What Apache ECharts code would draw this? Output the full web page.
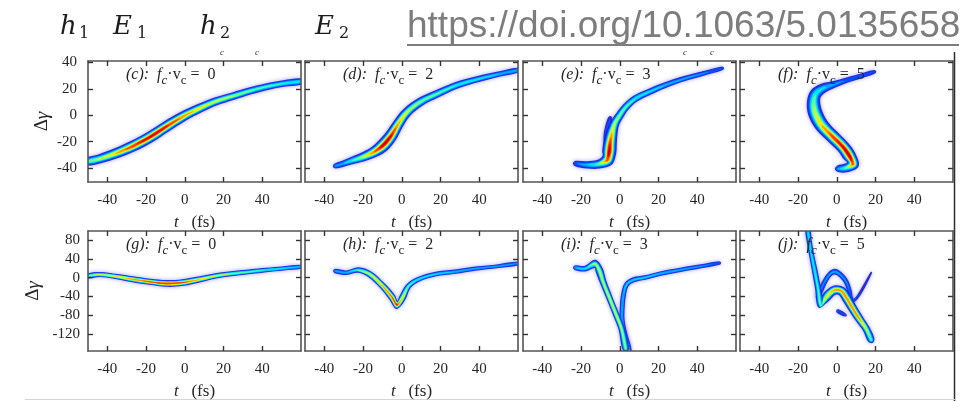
<!DOCTYPE html>
<html>
<head>
<meta charset="utf-8">
<script src="https://cdn.jsdelivr.net/npm/echarts@6/dist/echarts.min.js"></script>
<style>
  html, body { margin: 0; padding: 0; background: #ffffff; }
  #chart { width: 966px; height: 401px; }
</style>
</head>
<body>
<div id="chart"></div>
<script>
// ---- tick labels ----
const tTicks = [-40, -20, 0, 20, 40];
const gammaTicksTop = [-40, -20, 0, 20, 40];
const gammaTicksBottom = [-120, -80, -40, 0, 40, 80];

// ---- panel captions ----
const panelTags = ['c', 'd', 'e', 'f', 'g', 'h', 'i', 'j'];
const fcvcValues = [0, 2, 3, 5, 0, 2, 3, 5];
const headerSymbols = [['h', '1'], ['E', '1'], ['h', '2'], ['E', '2']];
const doiText = 'https://doi.org/10.1063/5.0135658';

// ---- ridge samples: [t (fs), Δγ, relative density, relative spread] ----
const ridgeC = [
  [-50, -35, 0.45, 0.85], [-44, -33, 0.55, 0.9], [-35, -28.5, 0.72, 0.95],
  [-27, -23.5, 0.88, 1.0], [-18, -16.5, 0.97, 1.0], [-10, -9, 0.93, 0.98],
  [-1, -1, 0.78, 0.92], [8, 5.5, 0.65, 0.85], [16, 10.5, 0.57, 0.8],
  [25, 14.5, 0.52, 0.75], [34, 18.5, 0.47, 0.72], [42, 21.5, 0.43, 0.7],
  [51, 24, 0.4, 0.68], [60, 25.5, 0.38, 0.66]
];
const ridgeD = [
  [-34.5, -38.5, 0.22, 0.6], [-30, -36.5, 0.3, 0.7], [-25, -34, 0.42, 0.8],
  [-19, -31, 0.6, 0.9], [-14, -27.5, 0.82, 1.0], [-9.5, -22.5, 1.0, 1.15],
  [-5.5, -15.5, 0.95, 1.1], [-2, -7, 0.75, 1.0], [2.5, 2, 0.6, 0.9],
  [9.5, 10, 0.5, 0.85], [18, 16, 0.45, 0.78], [28, 22.5, 0.4, 0.72],
  [40, 27.5, 0.35, 0.66], [50, 31, 0.3, 0.6], [60, 34, 0.27, 0.56]
];
const ridgeE = [
  [-23, -36.5, 0.18, 0.7], [-17, -37.5, 0.3, 0.8], [-11, -37, 0.45, 0.9],
  [-6.5, -34, 0.85, 1.15], [-5.5, -28, 1.0, 1.25], [-5, -21, 0.9, 1.2],
  [-4, -13, 0.7, 1.05], [-2.5, -6, 0.55, 0.9], [0, 0, 0.5, 0.82],
  [3, 6, 0.45, 0.76], [8, 12.5, 0.4, 0.72], [15, 17.5, 0.35, 0.68],
  [23, 22.5, 0.3, 0.64], [33, 27.5, 0.26, 0.6], [43, 31.5, 0.22, 0.56],
  [53, 35.5, 0.16, 0.5]
];
const ridgeEShoulder = [
  [-5, -2, 0.1, 0.7], [-6, -9, 0.16, 0.85], [-6.8, -16, 0.16, 0.85], [-7, -23, 0.1, 0.7]
];
const ridgeF = [
  [19.5, 32.8, 0.12, 0.55], [11, 29, 0.18, 0.65], [4, 26, 0.2, 0.7],
  [-1.2, 23.4, 0.24, 0.8], [-7, 20.5, 0.32, 1.05], [-11, 16, 0.4, 1.25],
  [-12, 8.5, 0.5, 1.35], [-10.7, 0, 0.6, 1.4], [-7.2, -8.7, 0.72, 1.3],
  [-2.1, -16.2, 0.87, 1.2], [3.1, -23.8, 0.96, 1.15], [6.6, -31, 1.0, 1.15],
  [8.3, -37, 0.85, 1.1], [4.5, -40, 0.45, 0.9], [0.5, -40.5, 0.25, 0.75]
];
const ridgeG = [
  [-50, 3.5, 0.5, 0.5], [-44, 6.5, 0.55, 0.5], [-35, 2, 0.65, 0.5],
  [-27, -3.5, 0.75, 0.55], [-18, -9, 0.85, 0.55], [-9.5, -12.5, 0.9, 0.6],
  [-1, -10.5, 0.85, 0.6], [8, -3.5, 0.7, 0.55], [16, 3.5, 0.6, 0.5],
  [25, 8.5, 0.5, 0.5], [34, 12.5, 0.45, 0.48], [42, 16, 0.4, 0.46],
  [51, 19.5, 0.35, 0.45], [60, 23, 0.3, 0.45]
];
const ridgeH = [
  [-34.5, 14, 0.25, 0.5], [-28.5, 10.5, 0.3, 0.5], [-22.5, 16, 0.45, 0.55],
  [-16.5, 7, 0.6, 0.6], [-10, -17.5, 0.72, 0.6], [-5, -42, 0.82, 0.65],
  [-2.5, -58, 0.92, 0.75], [0.2, -44, 0.65, 0.65], [3.5, -18, 0.45, 0.55],
  [8.7, -3.5, 0.38, 0.5], [17, 7, 0.33, 0.5], [27.5, 12.5, 0.3, 0.48],
  [38, 19, 0.28, 0.46], [50, 24.5, 0.25, 0.45], [60, 30, 0.22, 0.45]
];
const ridgeILeft = [
  [-23, 21, 0.3, 0.55], [-18, 19, 0.35, 0.6], [-12.8, 29, 0.55, 0.8],
  [-10.8, 17.5, 0.55, 0.75], [-8.5, -10.5, 0.55, 0.65], [-5.1, -45.6, 0.6, 0.6],
  [-1.7, -80.7, 0.6, 0.6], [0.9, -108.8, 0.55, 0.6], [3, -151, 0.5, 0.65]
];
const ridgeIRight = [
  [4.5, -156, 0.35, 0.7], [2.5, -120, 0.3, 0.6], [1.2, -90, 0.3, 0.55],
  [1.3, -60, 0.3, 0.55], [2, -35, 0.3, 0.55], [3.5, -15, 0.32, 0.55],
  [7, -5, 0.32, 0.55], [13, 0, 0.32, 0.5], [21, 8.5, 0.3, 0.5],
  [32, 17, 0.27, 0.5], [42, 24, 0.23, 0.48], [51.5, 31, 0.18, 0.45]
];
const ridgeJMain = [
  [-15, 102, 0.35, 0.55], [-14.1, 74, 0.35, 0.55], [-12.9, 45.6, 0.38, 0.55],
  [-11.2, 10.5, 0.4, 0.6], [-9.8, -21, 0.42, 0.6], [-8.1, -60, 0.45, 0.65],
  [-6, -45, 0.6, 0.8], [-3, -31, 0.7, 0.85], [-0.5, -26, 0.75, 0.85],
  [2.5, -29, 0.78, 0.85], [4.8, -42, 0.8, 0.85], [8.3, -66, 0.8, 0.8],
  [11.7, -88, 0.75, 0.75], [15.2, -109, 0.6, 0.7], [17.8, -133, 0.45, 0.7]
];
const ridgeJUpper = [
  [-9.8, -42, 0.2, 0.55], [-5.5, -3.5, 0.22, 0.6], [-1.2, 12.6, 0.25, 0.65],
  [4, -3.5, 0.22, 0.6], [6.6, -28, 0.2, 0.55], [8.3, -49, 0.2, 0.55],
  [11.7, -35, 0.12, 0.45], [17.8, 10.5, 0.07, 0.4]
];
const ridgeJDash = [
  [0.5, -71, 0.16, 0.5], [4.5, -80, 0.12, 0.45]
];

const panelRidges = [
  [ridgeC], [ridgeD], [ridgeEShoulder, ridgeE], [ridgeF],
  [ridgeG], [ridgeH], [ridgeIRight, ridgeILeft], [ridgeJUpper, ridgeJDash, ridgeJMain]
];

// ---- layout & styling ----
const SERIF = '"Liberation Serif", "Times New Roman", serif';
const COL_LEFT = [88, 305, 523, 740];
const ROW_TOP = [61, 231];
const PANEL_W = 213, PANEL_H = 121;
const Y_RANGE = [[-50.5, 41], [-156, 99]];
const INK = '#262626';
const FRAME = '#555555';

// jet-like density contour levels
const LEVELS = [
  { tau: 0.04, color: '#1a1ad0' },
  { tau: 0.11, color: '#0050ff' },
  { tau: 0.2, color: '#00a6ff' },
  { tau: 0.3, color: '#00e6f4' },
  { tau: 0.4, color: '#5cff9e' },
  { tau: 0.5, color: '#b8ff46' },
  { tau: 0.6, color: '#ffe600' },
  { tau: 0.7, color: '#ff9800' },
  { tau: 0.8, color: '#ff3a00' },
  { tau: 0.9, color: '#d40000' }
];
const BAND_PX = 2.25;

function ridgeRenderer(points) {
  return function (params, api) {
    if (params.dataIndex !== 0) return null;
    const px = points.map(p => api.coord([p[0], p[1]]));
    const n = px.length;
    const dir = px.map((_, i) => {
      const a = px[Math.max(0, i - 1)], b = px[Math.min(n - 1, i + 1)];
      const dx = b[0] - a[0], dy = b[1] - a[1];
      const len = Math.hypot(dx, dy) || 1;
      return [dx / len, dy / len];
    });
    const shapes = [];
    LEVELS.forEach((lv, k) => {
      const hw = points.map(p => p[2] > lv.tau
        ? BAND_PX * p[3] * Math.sqrt(2 * Math.log(p[2] / lv.tau)) : 0);
      const tip = (m, other, sign) => {
        if (other >= 0 && other < n) {
          const f = (points[m][2] - lv.tau) / (points[m][2] - points[other][2]);
          return [px[m][0] + (px[other][0] - px[m][0]) * f,
                  px[m][1] + (px[other][1] - px[m][1]) * f];
        }
        return [px[m][0] + sign * dir[m][0] * hw[m] * 0.9,
                px[m][1] + sign * dir[m][1] * hw[m] * 0.9];
      };
      let i = 0;
      while (i < n) {
        if (hw[i] === 0) { i++; continue; }
        let j = i;
        while (j + 1 < n && hw[j + 1] > 0) j++;
        const side1 = [], side2 = [];
        for (let m = i; m <= j; m++) {
          const nx = -dir[m][1], ny = dir[m][0];
          side1.push([px[m][0] + nx * hw[m], px[m][1] + ny * hw[m]]);
          side2.push([px[m][0] - nx * hw[m], px[m][1] - ny * hw[m]]);
        }
        const ring = [tip(i, i - 1, -1)].concat(side1, [tip(j, j + 1, 1)], side2.reverse());
        const style = { fill: lv.color };
        if (k === 0) {
          style.shadowBlur = 4;
          style.shadowColor = 'rgba(70,70,255,0.55)';
          style.opacity = 0.9;
        }
        shapes.push({ type: 'polygon', shape: { points: ring, smooth: 0.35 }, style: style });
        i = j + 1;
      }
    });
    return { type: 'group', children: shapes };
  };
}

const grids = [], xAxes = [], yAxes = [], series = [], graphics = [];
const frameLine = { show: true, onZero: false, lineStyle: { color: FRAME, width: 1.6 } };
const tickStyle = { show: true, inside: true, length: 5, lineStyle: { color: '#333333', width: 1.4 } };
const labelText = { fontFamily: SERIF, fontSize: 15, color: INK };

for (let p = 0; p < 8; p++) {
  const row = p < 4 ? 0 : 1, col = p % 4;
  const yTicks = row === 0 ? gammaTicksTop : gammaTicksBottom;
  grids.push({ left: COL_LEFT[col], top: ROW_TOP[row], width: PANEL_W, height: PANEL_H, show: false });
  xAxes.push({
    gridIndex: p, type: 'value', min: -50, max: 60, position: 'bottom', z: 6,
    axisLine: frameLine, splitLine: { show: false },
    axisTick: Object.assign({ customValues: tTicks }, tickStyle),
    axisLabel: Object.assign({ customValues: tTicks, margin: 11 }, labelText),
    name: '{i|t}{n|   (fs)}', nameLocation: 'middle', nameGap: 32,
    nameTextStyle: {
      rich: {
        i: { fontFamily: SERIF, fontStyle: 'italic', fontSize: 17, color: INK },
        n: { fontFamily: SERIF, fontSize: 17, color: INK }
      }
    }
  });
  xAxes.push({
    gridIndex: p, type: 'value', min: -50, max: 60, position: 'top', z: 6,
    axisLine: frameLine, splitLine: { show: false },
    axisTick: Object.assign({ customValues: tTicks }, tickStyle),
    axisLabel: { show: false, customValues: tTicks }
  });
  const leftAxis = {
    gridIndex: p, type: 'value', min: Y_RANGE[row][0], max: Y_RANGE[row][1], position: 'left', z: 6,
    axisLine: frameLine, splitLine: { show: false },
    axisTick: Object.assign({ customValues: yTicks }, tickStyle),
    axisLabel: Object.assign({ show: col === 0, customValues: yTicks, margin: row === 0 ? 11 : 8 }, labelText)
  };
  if (col === 0) {
    Object.assign(leftAxis, {
      name: '{d|Δ}{g|γ}', nameLocation: 'middle', nameRotate: 90,
      nameGap: row === 0 ? 36 : 45,
      nameTextStyle: {
        rich: {
          d: { fontFamily: SERIF, fontSize: 19, color: INK },
          g: { fontFamily: SERIF, fontStyle: 'italic', fontSize: 19, color: INK }
        }
      }
    });
  }
  yAxes.push(leftAxis);
  yAxes.push({
    gridIndex: p, type: 'value', min: Y_RANGE[row][0], max: Y_RANGE[row][1], position: 'right', z: 6,
    axisLine: frameLine, splitLine: { show: false },
    axisTick: Object.assign({ customValues: yTicks }, tickStyle),
    axisLabel: { show: false, customValues: yTicks }
  });

  panelRidges[p].forEach(r => series.push({
    type: 'custom', xAxisIndex: 2 * p, yAxisIndex: 2 * p, clip: true, silent: true, z: 2,
    renderItem: ridgeRenderer(r), data: r.map(q => [q[0], q[1]]), encode: { x: 0, y: 1 }
  }));

  // panel caption (tag): f_c·v_c = value
  graphics.push({
    type: 'text', z: 100, silent: true,
    x: COL_LEFT[col] + 38, y: ROW_TOP[row] + 14,
    style: {
      text: '{a|(' + panelTags[p] + '):}{b|  f}{s|c}{v|·v}{t|c}{v| =  ' + fcvcValues[p] + '}',
      verticalAlign: 'middle', align: 'left',
      rich: {
        a: { font: 'italic 16px ' + SERIF, fill: INK },
        b: { font: 'italic 16px ' + SERIF, fill: INK },
        s: { font: 'italic 13px ' + SERIF, fill: INK, padding: [12, 0, 0, 0] },
        v: { font: '16px ' + SERIF, fill: INK },
        t: { font: '13px ' + SERIF, fill: INK, padding: [12, 0, 0, 0] }
      }
    }
  });
}

// header symbols
const headerX = [[60, 79], [113, 137], [200, 220], [315, 339]];
headerSymbols.forEach((s, i) => {
  graphics.push({
    type: 'text', silent: true, x: headerX[i][0], y: 27,
    style: { text: s[0], font: 'italic 26px "DejaVu Serif", serif', fill: '#1c1c1c', verticalAlign: 'middle' }
  });
  graphics.push({
    type: 'text', silent: true, x: headerX[i][1], y: 34,
    style: { text: s[1], font: '16px "DejaVu Serif", serif', fill: '#1c1c1c', verticalAlign: 'middle' }
  });
});
// link text with underline
graphics.push({
  type: 'text', silent: true, x: 407, y: 27,
  style: { text: doiText, font: '37px "Liberation Sans", Arial, sans-serif', fill: '#7d7d7d', verticalAlign: 'middle' }
});
graphics.push({
  type: 'line', silent: true,
  shape: { x1: 407, y1: 45, x2: 959, y2: 45 },
  style: { stroke: '#7d7d7d', lineWidth: 2 }
});
// clipped subscript fragments above the upper row
[222, 257, 685, 712].forEach(x => graphics.push({
  type: 'text', silent: true, x: x, y: 53,
  style: { text: 'c', font: 'italic 9px ' + SERIF, fill: '#333', align: 'center', verticalAlign: 'middle' }
}));
// right edge rule and faint bottom rule
graphics.push({
  type: 'line', silent: true, shape: { x1: 954.5, y1: 52, x2: 954.5, y2: 401 },
  style: { stroke: '#2e2e2e', lineWidth: 1.5 }
});
graphics.push({
  type: 'line', silent: true, shape: { x1: 25, y1: 399.5, x2: 955, y2: 399.5 },
  style: { stroke: '#d6d6d6', lineWidth: 1 }
});

const chart = echarts.init(document.getElementById('chart'), null, { renderer: 'canvas' });
chart.setOption({
  backgroundColor: '#ffffff',
  animation: false,
  grid: grids,
  xAxis: xAxes,
  yAxis: yAxes,
  series: series,
  graphic: graphics
});
</script>
</body>
</html>
